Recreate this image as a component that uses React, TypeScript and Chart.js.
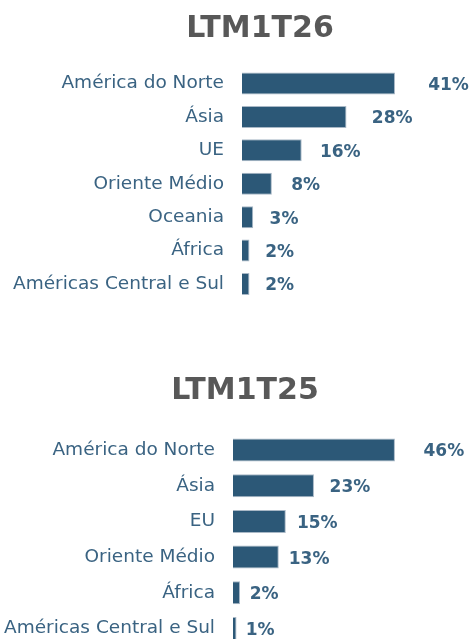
import React, { useEffect, useRef } from "react";
import { Chart, registerables } from "chart.js";

Chart.register(...registerables);

const title26 = "LTM1T26";
const categories26 = ["América do Norte", "Ásia", "UE", "Oriente Médio", "Oceania", "África", "Américas Central e Sul"];
const values26 = [41, 28, 16, 8, 3, 2, 2];

const title25 = "LTM1T25";
const categories25 = ["América do Norte", "Ásia", "EU", "Oriente Médio", "África", "Américas Central e Sul"];
const values25 = [46, 23, 15, 13, 2, 1];

const BAR = "#2c5877";
const TEXT = "#3a6382";
const TITLE = "#585858";
const FONT = "'DejaVu Sans', sans-serif";

type PanelCfg = {
  title: string;
  labels: string[];
  values: number[];
  top: number;
  width: number;
  height: number;
  xMax: number;
  padB: number;
  yWidth: number;
  titleTop: number;
  titleBottom: number;
  barPct: number;
  labelOff: number;
};

const valueLabels = {
  id: "valueLabels",
  afterDatasetsDraw(chart: any, _args: any, opts: any) {
    const { ctx } = chart;
    const meta = chart.getDatasetMeta(0);
    const xs = chart.scales.x;
    const data = chart.data.datasets[0].data as number[];
    ctx.save();
    ctx.font = `bold 17px ${FONT}`;
    ctx.fillStyle = TEXT;
    ctx.textAlign = "center";
    ctx.textBaseline = "middle";
    meta.data.forEach((bar: any, i: number) => {
      const v = data[i];
      const cx = xs.getPixelForValue(v * 1.16) + opts.offset;
      ctx.fillText(`${v}%`, cx, bar.y + 2);
    });
    ctx.restore();
  },
};

function Panel({ cfg }: { cfg: PanelCfg }) {
  const ref = useRef<HTMLCanvasElement>(null);
  useEffect(() => {
    const chart = new Chart(ref.current!, {
      type: "bar",
      data: {
        labels: cfg.labels,
        datasets: [
          {
            data: cfg.values,
            backgroundColor: BAR,
            borderColor: "#a9b8c6",
            borderWidth: 1,
            categoryPercentage: 1,
            barPercentage: cfg.barPct,
          },
        ],
      },
      options: {
        indexAxis: "y",
        animation: false,
        responsive: false,
        maintainAspectRatio: false,
        layout: { padding: { left: 0, right: 0, top: 0, bottom: cfg.padB } },
        scales: {
          x: { display: false, min: 0, max: cfg.xMax },
          y: {
            grid: { display: false, drawTicks: false },
            border: { display: false },
            ticks: { color: TEXT, padding: 18, font: { family: FONT, size: 18.5 }, autoSkip: false },
            afterFit: (s: any) => {
              s.width = cfg.yWidth;
            },
          },
        },
        plugins: {
          legend: { display: false },
          tooltip: { enabled: false },
          title: {
            display: true,
            text: cfg.title,
            color: TITLE,
            font: { family: FONT, size: 30, weight: "bold", lineHeight: 1.2 },
            padding: { top: cfg.titleTop, bottom: cfg.titleBottom },
          },
          valueLabels: { offset: cfg.labelOff },
        } as any,
      },
      plugins: [valueLabels],
    });
    return () => chart.destroy();
  }, [cfg]);
  return (
    <canvas
      ref={ref}
      width={cfg.width}
      height={cfg.height}
      style={{ position: "absolute", left: 0, top: cfg.top, display: "block", width: cfg.width, height: cfg.height }}
    />
  );
}

const top: PanelCfg = {
  title: title26,
  labels: categories26,
  values: values26,
  top: 0,
  width: 520,
  height: 335,
  xMax: 74.5,
  padB: 34.3,
  yWidth: 242,
  titleTop: 11,
  titleBottom: 19.8,
  barPct: 0.66,
  labelOff: 29,
};

const bottom: PanelCfg = {
  title: title25,
  labels: categories25,
  values: values25,
  top: 320,
  width: 490,
  height: 360,
  xMax: 73,
  padB: 33.65,
  yWidth: 233,
  titleTop: 53,
  titleBottom: 23.15,
  barPct: 0.645,
  labelOff: 23,
};

export default function App() {
  return (
    <div style={{ position: "absolute", left: 0, top: 0, width: 469, height: 639, overflow: "hidden", background: "#fff" }}>
      <Panel cfg={top} />
      <Panel cfg={bottom} />
    </div>
  );
}
